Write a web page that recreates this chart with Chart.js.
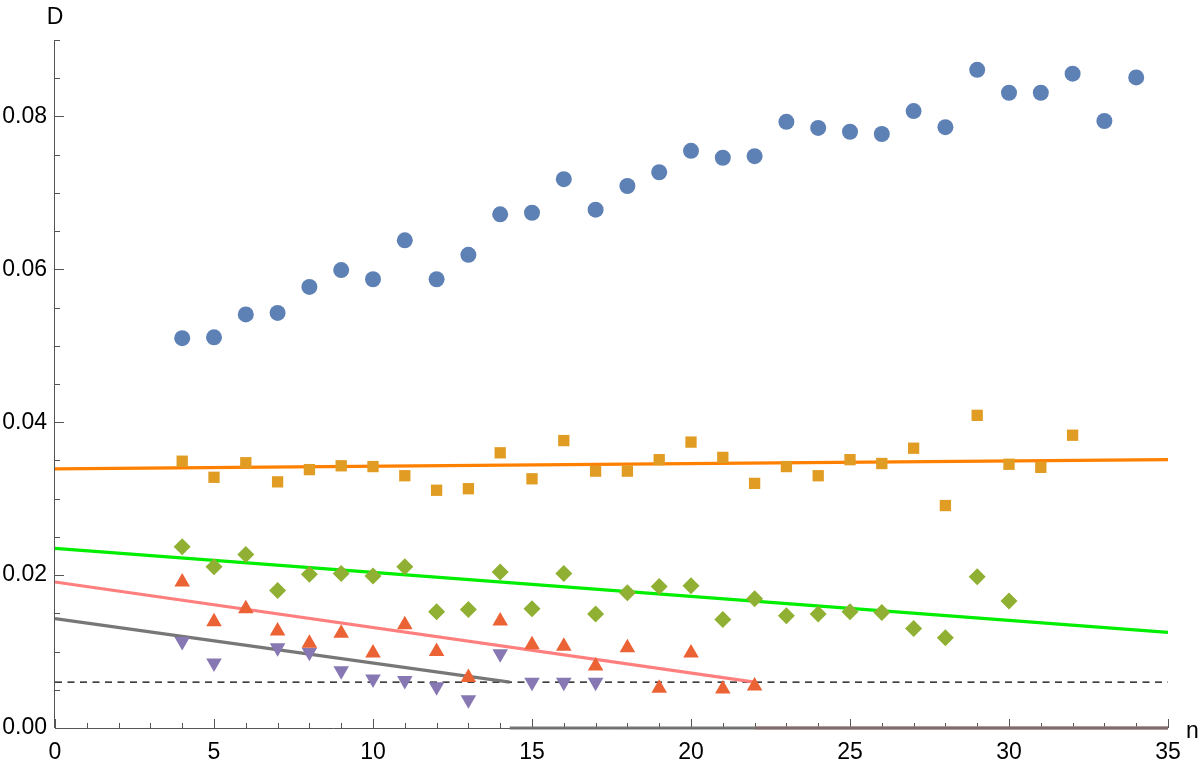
<!DOCTYPE html>
<html>
<head>
<meta charset="utf-8">
<script src="https://cdn.jsdelivr.net/npm/chart.js@4.4.1/dist/chart.umd.min.js"></script>
<style>
  html, body { margin: 0; padding: 0; background: #fff; }
  #wrap { width: 1200px; height: 765px; }
</style>
</head>
<body>
<div id="wrap"><canvas id="myChart" width="1200" height="765"></canvas></div>
<script>
// data
var blueN = [4,5,6,7,8,9,10,11,12,13,14,15,16,17,18,19,20,21,22,23,24,25,26,27,28,29,30,31,32,33,34];
var blueD = [0.0510,0.0511,0.0541,0.0543,0.0577,0.0599,0.0587,0.0638,0.0587,0.0619,0.0672,0.0674,0.0718,0.0678,0.0709,0.0727,0.0755,0.0746,0.0748,0.0793,0.0785,0.0780,0.0777,0.0807,0.0786,0.0861,0.0831,0.0831,0.0856,0.0794,0.0851];

var orangeN = [4,5,6,7,8,9,10,11,12,13,14,15,16,17,18,19,20,21,22,23,24,25,26,27,28,29,30,31,32];
var orangeD = [0.0349,0.0328,0.0347,0.0322,0.0338,0.0343,0.0342,0.0330,0.0311,0.0313,0.0360,0.0326,0.0376,0.0336,0.0336,0.0351,0.0374,0.0354,0.0320,0.0342,0.0330,0.0351,0.0346,0.0366,0.0291,0.0409,0.0345,0.0341,0.0383];

var greenN = [4,5,6,7,8,9,10,11,12,13,14,15,16,17,18,19,20,21,22,23,24,25,26,27,28,29,30];
var greenD = [0.0237,0.0211,0.0227,0.0180,0.0201,0.0202,0.0199,0.0211,0.0152,0.0155,0.0204,0.0156,0.0202,0.0149,0.0177,0.0185,0.0186,0.0142,0.0169,0.0147,0.0149,0.0152,0.0151,0.0130,0.0118,0.0198,0.0166];

var redN = [4,5,6,7,8,9,10,11,12,13,14,15,16,17,18,19,20,21,22];
var redD = [0.0191,0.0139,0.0156,0.0127,0.0111,0.0124,0.0098,0.0135,0.0100,0.0066,0.0140,0.0109,0.0107,0.0081,0.0105,0.0052,0.0098,0.0051,0.0055];

var purpleN = [4,5,7,8,9,10,11,12,13,14,15,16,17];
var purpleD = [0.0113,0.0085,0.0105,0.0099,0.0075,0.0064,0.0062,0.0054,0.0037,0.0097,0.0060,0.0060,0.0060];

// fitted lines (end points), dropping to 0 past their end
var orangeFitN = [0, 35];
var orangeFitD = [0.0339, 0.0351];
var greenFitN = [0, 35];
var greenFitD = [0.0235, 0.0125];
var pinkFitN = [0, 22, 22, 22, 35];
var pinkFitD = [0.0191, 0.0060, null, 0, 0];
var grayFitN = [0, 14.3, 14.3, 14.3, 35];
var grayFitD = [0.0143, 0.0060, null, 0, 0];
var levelN = [0, 35];
var levelD = [0.0060, 0.0060];

var xTicks = [0, 5, 10, 15, 20, 25, 30, 35];
var yTicks = [0, 0.02, 0.04, 0.06, 0.08];

function pts(xs, ys) {
  return xs.map(function (x, i) { return { x: x, y: ys[i] }; });
}

var FONT = "'Liberation Sans', Arial, sans-serif";

// axes drawn Mathematica style: ticks pointing inward, minor ticks
var axesPlugin = {
  id: "axesPlugin",
  beforeDatasetsDraw: function (chart) {
    var ctx = chart.ctx;
    var xs = chart.scales.x, ys = chart.scales.y;
    var x0 = xs.getPixelForValue(0), y0 = ys.getPixelForValue(0);
    ctx.save();
    ctx.strokeStyle = "#555";
    ctx.lineWidth = 1;
    ctx.beginPath();
    ctx.moveTo(x0, y0 + 0.5);
    ctx.lineTo(xs.getPixelForValue(35), y0 + 0.5);
    ctx.moveTo(x0 - 0.5, y0);
    ctx.lineTo(x0 - 0.5, ys.getPixelForValue(0.09));
    for (var i = 0; i <= 35; i++) {
      var px = Math.round(xs.getPixelForValue(i)) + 0.5;
      var len = i % 5 === 0 ? 9 : 5;
      ctx.moveTo(px, y0);
      ctx.lineTo(px, y0 - len);
    }
    for (var j = 0; j <= 18; j++) {
      var py = Math.round(ys.getPixelForValue(j * 0.005)) + 0.5;
      var l = j % 4 === 0 ? 9 : 5;
      ctx.moveTo(x0, py);
      ctx.lineTo(x0 + l, py);
    }
    ctx.stroke();
    ctx.fillStyle = "#000";
    ctx.font = "23px " + FONT;
    ctx.textAlign = "center";
    ctx.textBaseline = "alphabetic";
    ctx.fillText("D", x0, 24);
    ctx.textAlign = "left";
    ctx.fillText("n", xs.getPixelForValue(35) + 18, y0 + 10);
    ctx.restore();
  }
};

var ctx = document.getElementById("myChart").getContext("2d");
var myChart = new Chart(ctx, {
  type: "scatter",
  data: {
    datasets: [
      {
        type: "line",
        data: pts(levelN, levelD),
        borderColor: "#000",
        borderWidth: 1.2,
        borderDash: [7, 5.5],
        pointRadius: 0,
        fill: false,
        order: 10,
      },
      {
        type: "line",
        data: pts(pinkFitN, pinkFitD),
        borderColor: "#ff7f7f",
        borderWidth: 3.2,
        pointRadius: 0,
        spanGaps: false,
        fill: false,
        order: 9,
      },
      {
        type: "line",
        data: pts(grayFitN, grayFitD),
        borderColor: "rgba(110,110,110,0.94)",
        borderWidth: 3.2,
        pointRadius: 0,
        spanGaps: false,
        fill: false,
        order: 8,
      },
      {
        type: "line",
        data: pts(greenFitN, greenFitD),
        borderColor: "#00ee00",
        borderWidth: 3.2,
        pointRadius: 0,
        fill: false,
        order: 7,
      },
      {
        type: "line",
        data: pts(orangeFitN, orangeFitD),
        borderColor: "#ff8000",
        borderWidth: 3.2,
        pointRadius: 0,
        fill: false,
        order: 6,
      },
      {
        data: pts(purpleN, purpleD),
        pointStyle: "triangle",
        rotation: 180,
        pointRadius: 9,
        backgroundColor: "#8778b3",
        borderWidth: 0,
        order: 5,
      },
      {
        data: pts(redN, redD),
        pointStyle: "triangle",
        pointRadius: 9,
        backgroundColor: "#eb6235",
        borderWidth: 0,
        order: 4,
      },
      {
        data: pts(greenN, greenD),
        pointStyle: "rectRot",
        pointRadius: 8.5,
        backgroundColor: "#8fb032",
        borderWidth: 0,
        order: 3,
      },
      {
        data: pts(orangeN, orangeD),
        pointStyle: "rect",
        pointRadius: 8,
        backgroundColor: "#e19c24",
        borderWidth: 0,
        order: 2,
      },
      {
        data: pts(blueN, blueD),
        pointStyle: "circle",
        pointRadius: 8,
        backgroundColor: "#5e81b5",
        borderWidth: 0,
        order: 1,
      },
    ],
  },
  options: {
    responsive: false,
    animation: false,
    clip: false,
    layout: { padding: { left: 0, top: 40, right: 32, bottom: 0 } },
    plugins: {
      legend: { display: false },
      tooltip: { enabled: false },
    },
    scales: {
      x: {
        type: "linear",
        min: 0,
        max: 35,
        grid: { display: false, drawTicks: false },
        border: { display: false },
        afterFit: function (s) { s.height = 37; },
        afterBuildTicks: function (s) {
          s.ticks = xTicks.map(function (v) { return { value: v }; });
        },
        ticks: {
          padding: 11,
          color: "#000",
          font: { family: FONT, size: 23 },
          callback: function (v) { return String(v); },
        },
      },
      y: {
        type: "linear",
        min: 0,
        max: 0.09,
        grid: { display: false, drawTicks: false },
        border: { display: false },
        afterFit: function (s) { s.width = 55; },
        afterBuildTicks: function (s) {
          s.ticks = yTicks.map(function (v) { return { value: v }; });
        },
        ticks: {
          padding: 8,
          color: "#000",
          font: { family: FONT, size: 23 },
          callback: function (v) { return v.toFixed(2); },
        },
      },
    },
  },
  plugins: [axesPlugin],
});
</script>
</body>
</html>
